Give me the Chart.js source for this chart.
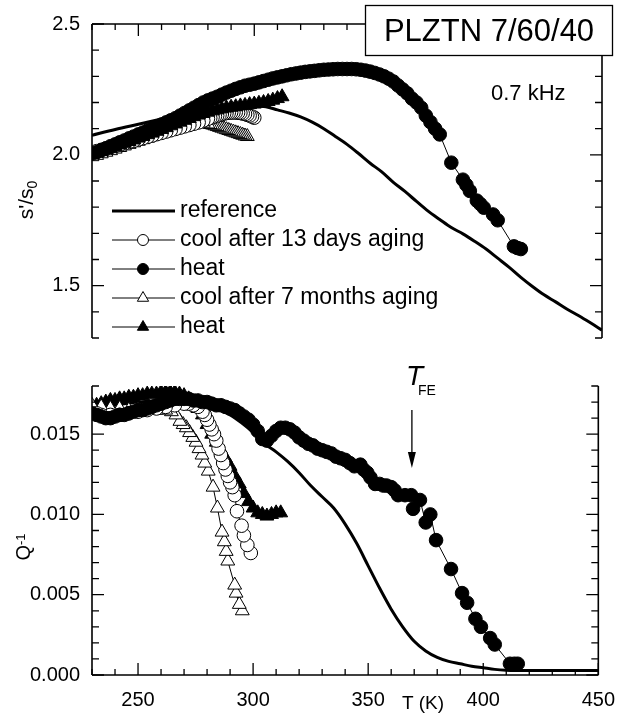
<!DOCTYPE html>
<html>
<head>
<meta charset="utf-8">
<script src="https://cdn.jsdelivr.net/npm/chart.js@4"></script>
<style>
  body { margin: 0; background: #fff; }
  #wrap { position: relative; width: 628px; height: 723px; }
  canvas { position: absolute; left: 0; }
  #topChart { top: 0; }
  #bottomChart { top: 362px; }
</style>
</head>
<body>
<div id="wrap">
  <canvas id="topChart" width="628" height="362"></canvas>
  <canvas id="bottomChart" width="628" height="361"></canvas>
</div>
<script>
// Axis ranges and tick labels
const xMin = 230, xMax = 450;
const xTicks = [250, 300, 350, 400, 450];
const sTicks = [1.5, 2.0, 2.5];
const qTicks = [0, 0.005, 0.010, 0.015];
const legendLabels = ['reference', 'cool after 13 days aging', 'heat', 'cool after 7 months aging', 'heat'];

// ---- upper panel: s'/s0 ----
const tRefS = [230, 240, 250, 260, 270, 280, 290, 300, 305, 310, 315, 320, 325, 330, 335, 340, 345, 350, 355, 360,
  365, 370, 375, 380, 385, 390, 395, 400, 405, 410, 415, 420, 425, 430, 435, 440, 445, 450];
const sRef = [2.075, 2.097, 2.117, 2.137, 2.158, 2.175, 2.186, 2.188, 2.184, 2.172, 2.160, 2.145, 2.125, 2.100, 2.070, 2.040, 2.005, 1.968, 1.935, 1.895,
  1.860, 1.822, 1.785, 1.753, 1.722, 1.698, 1.670, 1.640, 1.605, 1.570, 1.532, 1.497, 1.465, 1.438, 1.410, 1.385, 1.358, 1.330];

const tHeat13S = [230, 232, 234, 236, 238, 240, 242, 244, 246, 248, 250, 252, 254, 256, 258, 260, 262, 264, 266, 268,
  270, 272, 274, 276, 278, 280, 282, 284, 286, 288, 290, 292, 294, 296, 298, 300, 302, 304, 306, 308,
  310, 312, 314, 316, 318, 320, 322, 324, 326, 328, 330, 332, 334, 336, 338, 340, 342, 344, 346, 348,
  350, 352, 354, 356, 358, 360, 362, 364, 366, 368, 370, 372, 374, 376, 378, 380,
  385, 390, 391.5, 393, 396, 397.5, 399, 403, 405, 412, 413.5, 415];
const sHeat13 = [2.005, 2.010, 2.018, 2.025, 2.033, 2.040, 2.048, 2.055, 2.063, 2.070, 2.078, 2.085, 2.093, 2.100, 2.108, 2.116, 2.124, 2.132, 2.140, 2.150,
  2.160, 2.170, 2.180, 2.190, 2.200, 2.208, 2.215, 2.222, 2.230, 2.238, 2.245, 2.252, 2.258, 2.264, 2.268, 2.272, 2.277, 2.282, 2.287, 2.292,
  2.296, 2.300, 2.304, 2.308, 2.311, 2.314, 2.317, 2.319, 2.321, 2.323, 2.325, 2.326, 2.327, 2.328, 2.328, 2.328, 2.328, 2.327, 2.325, 2.322,
  2.318, 2.313, 2.307, 2.300, 2.291, 2.280, 2.265, 2.250, 2.235, 2.215, 2.200, 2.180, 2.150, 2.125, 2.100, 2.078,
  1.970, 1.905, 1.885, 1.862, 1.825, 1.812, 1.798, 1.772, 1.750, 1.650, 1.644, 1.640];

const tCool13S = [300, 299, 298, 297, 296, 295, 294, 293, 292, 291, 290, 289, 288, 287, 286, 285, 284, 283, 282, 281, 280,
  278, 276, 274, 272, 270, 268, 266, 264, 262, 260, 258, 256, 254, 252, 250, 248, 246, 244, 242, 240, 238, 236, 234, 232];
const sCool13 = [2.142, 2.146, 2.150, 2.153, 2.156, 2.158, 2.160, 2.161, 2.162, 2.162, 2.162, 2.161, 2.160, 2.158, 2.156, 2.153, 2.150, 2.147, 2.144, 2.141, 2.138,
  2.131, 2.124, 2.119, 2.114, 2.109, 2.104, 2.099, 2.094, 2.089, 2.084, 2.079, 2.074, 2.069, 2.064, 2.059, 2.054, 2.049, 2.044, 2.039, 2.034, 2.029, 2.024, 2.019, 2.014];

const tCool7S = [297, 296, 295, 294, 293, 292, 291, 290, 289, 288, 287, 286, 285, 284, 283, 282, 281, 280,
  278, 276, 274, 272, 270, 268, 266, 264, 262, 260, 258, 256, 254, 252, 250, 248, 246, 244, 242, 240, 238, 236, 234, 232, 230];
const sCool7 = [2.070, 2.072, 2.075, 2.078, 2.081, 2.084, 2.087, 2.090, 2.093, 2.096, 2.099, 2.102, 2.105, 2.108, 2.111, 2.114, 2.116, 2.118,
  2.121, 2.122, 2.120, 2.116, 2.111, 2.106, 2.100, 2.094, 2.088, 2.082, 2.076, 2.070, 2.064, 2.058, 2.052, 2.046, 2.040, 2.034, 2.028, 2.022, 2.016, 2.010, 2.004, 1.998, 1.993];

const tHeat7S = [230, 232, 234, 236, 238, 240, 242, 244, 246, 248, 250, 252, 254, 256, 258, 260, 262, 264, 266, 268, 270,
  272, 274, 276, 278, 280, 282, 284, 286, 288, 290, 292, 294, 296, 298, 300, 302, 304, 306, 308, 310, 312];
const sHeat7 = [2.000, 2.006, 2.012, 2.018, 2.025, 2.031, 2.038, 2.044, 2.051, 2.057, 2.064, 2.070, 2.077, 2.083, 2.090, 2.097, 2.104, 2.111, 2.118, 2.125, 2.132,
  2.139, 2.146, 2.152, 2.158, 2.163, 2.168, 2.172, 2.176, 2.179, 2.182, 2.184, 2.187, 2.189, 2.192, 2.194, 2.197, 2.200, 2.204, 2.209, 2.215, 2.222];

// ---- lower panel: Q^-1 ----
const tRefQ = [230, 240, 250, 260, 270, 280, 290, 295, 300, 305, 310, 315, 320, 325, 330, 335, 340, 345, 350, 355,
  360, 365, 370, 375, 380, 385, 390, 395, 400, 405, 410, 420, 430, 440, 450];
const qRef = [0.0166, 0.0168, 0.0170, 0.0171, 0.0171, 0.0168, 0.0162, 0.0157, 0.0151, 0.0144, 0.0139, 0.0133, 0.0126, 0.0118, 0.0111, 0.0104, 0.0094, 0.0082, 0.0068, 0.0054,
  0.0041, 0.0030, 0.0021, 0.0015, 0.0011, 0.00085, 0.0007, 0.00055, 0.00045, 0.00035, 0.0003, 0.00028, 0.00028, 0.00028, 0.00028];

const tHeat13Q = [230, 232, 234, 236, 238, 240, 242, 244, 246, 248, 250, 252, 254, 256, 258, 260, 262, 264, 266, 268,
  270, 272, 274, 276, 278, 280, 282, 284, 286, 288, 290, 292, 294, 296, 298, 300, 302, 304, 306, 308,
  310, 312, 314, 316, 318, 320, 322, 324, 326, 328, 330, 332, 334, 336, 338, 340, 342, 344,
  346.6, 348, 349.6, 351, 353, 355, 356.6, 358, 360, 361.5, 363, 366, 368.7, 369.5, 372.5, 375, 377, 379.5,
  386, 390.8, 393, 396.6, 399, 403, 405, 411.6, 413.5, 415];
const qHeat13 = [0.0163, 0.0162, 0.0161, 0.0160, 0.0160, 0.0161, 0.0162, 0.0162, 0.0163, 0.0164, 0.0165, 0.0165, 0.0166, 0.0167, 0.0168, 0.0169, 0.0170, 0.0171, 0.0172, 0.0172,
  0.0172, 0.0172, 0.0171, 0.0171, 0.0170, 0.0170, 0.0169, 0.0168, 0.0168, 0.0167, 0.0166, 0.0165, 0.0163, 0.0161, 0.0159, 0.0156, 0.0152, 0.0147, 0.0146, 0.0149,
  0.0152, 0.0154, 0.0154, 0.0153, 0.0151, 0.0148, 0.0146, 0.0144, 0.0143, 0.0141, 0.0140, 0.0139, 0.0138, 0.0136, 0.0135, 0.0134, 0.0132, 0.0130,
  0.0131, 0.0128, 0.0126, 0.0123, 0.0119, 0.0119, 0.0118, 0.0118, 0.0117, 0.0115, 0.0112, 0.0112, 0.0112, 0.01035, 0.0109, 0.0095, 0.0100, 0.0084,
  0.0066, 0.0051, 0.0045, 0.0035, 0.0030, 0.0023, 0.0019, 0.0007, 0.0007, 0.0007];

const tCool13Q = [299, 297.5, 296, 295, 293, 292, 291, 290, 289, 288, 287, 286, 285, 284, 283, 282, 281, 280, 279, 278,
  276, 274, 272, 270, 266, 262, 258, 254, 250, 246, 242, 238, 234, 232];
const qCool13 = [0.0076, 0.0081, 0.0087, 0.0093, 0.0102, 0.0112, 0.0117, 0.0120, 0.0124, 0.0128, 0.0132, 0.0137, 0.0141, 0.0146, 0.0150, 0.0153, 0.0156, 0.0159, 0.0162, 0.0164,
  0.0167, 0.0168, 0.0169, 0.0169, 0.0168, 0.0167, 0.0166, 0.0165, 0.0164, 0.0163, 0.0162, 0.0162, 0.0162, 0.0163];

const tCool7Q = [295.3, 294, 292.6, 292, 289, 288.3, 287.5, 286.5, 284.5, 282.6, 280.5, 279, 277.8, 276.5, 275.2, 273.8, 272.4, 271, 269.6, 268.2,
  266.5, 264.5, 262, 258, 254, 250, 246, 242, 238, 234, 230];
const qCool7 = [0.0040, 0.0044, 0.0051, 0.0056, 0.0071, 0.0077, 0.0083, 0.0089, 0.0104, 0.0117, 0.0127, 0.0132, 0.0137, 0.0141, 0.0145, 0.0148, 0.0151, 0.0154, 0.0156, 0.0158,
  0.0162, 0.0164, 0.0165, 0.0165, 0.0165, 0.0165, 0.0165, 0.0166, 0.0166, 0.0167, 0.0168];

const tHeat7Q = [230, 232, 234, 236, 238, 240, 242, 244, 246, 248, 250, 252, 254, 256, 258, 260, 262, 264, 266, 268, 270,
  272, 274, 276, 278, 280, 282, 284, 286, 288, 290, 292, 294, 296, 298, 300, 302, 304, 306, 308, 310, 312];
const qHeat7 = [0.0167, 0.0168, 0.0169, 0.0170, 0.0171, 0.0171, 0.0172, 0.0172, 0.0173, 0.0173, 0.0174, 0.0174, 0.0175, 0.0175, 0.0175, 0.0176, 0.0176, 0.0176, 0.0176, 0.0175, 0.0174,
  0.0172, 0.0170, 0.0166, 0.0162, 0.0156, 0.0150, 0.0145, 0.0140, 0.0135, 0.0130, 0.0124, 0.0119, 0.0113, 0.0108, 0.0104, 0.0101, 0.0100, 0.0099, 0.0100, 0.0101, 0.0101];

const FONT = "'Liberation Sans', Arial, Helvetica, sans-serif";

// pair x and y arrays into points
function pts(xs, ys) {
    return xs.map((x, i) => ({ x: x, y: ys[i] }));
}

function refSet(xs, ys, order) {
    return {
        data: pts(xs, ys),
        showLine: true,
        borderColor: '#000',
        borderWidth: 3,
        pointRadius: 0,
        cubicInterpolationMode: 'monotone',
        order: order
    };
}

function markerSet(xs, ys, shape, filled, order) {
    return {
        data: pts(xs, ys),
        showLine: true,
        borderColor: '#000',
        borderWidth: 1,
        pointStyle: shape,
        pointRadius: shape === 'triangle' ? 8 : 6.8,
        pointBorderWidth: 1,
        pointBorderColor: '#000',
        pointBackgroundColor: filled ? '#000' : '#fff',
        order: order
    };
}

function xScale(showLabels, height) {
    return {
        type: 'linear',
        min: xMin,
        max: xMax,
        grid: { display: false, drawTicks: false },
        border: { display: false },
        ticks: {
            display: showLabels,
            padding: 13,
            maxRotation: 0,
            autoSkip: false,
            color: '#000',
            font: { family: FONT, size: 20 },
            callback: v => String(v)
        },
        afterBuildTicks: s => { s.ticks = xTicks.map(v => ({ value: v })); },
        afterFit: s => { s.height = height; }
    };
}

function yScale(min, max, ticks, digits) {
    return {
        type: 'linear',
        min: min,
        max: max,
        grid: { display: false, drawTicks: false },
        border: { display: false },
        ticks: {
            padding: 12,
            color: '#000',
            font: { family: FONT, size: 20 },
            callback: v => Number(v).toFixed(digits)
        },
        afterBuildTicks: s => { s.ticks = ticks.map(v => ({ value: v })); },
        afterFit: s => { s.width = 92; }
    };
}

// minor / major tick positions along an axis
function markPositions(min, max, minor, major) {
    const out = [];
    const n = Math.round((max - min) / minor);
    for (let i = 0; i <= n; i++) {
        const v = min + i * minor;
        const r = v / major;
        out.push({ v: v, major: Math.abs(r - Math.round(r)) < 1e-6 });
    }
    return out;
}

// frame with inward ticks
const framePlugin = {
    id: 'frame',
    afterDatasetsDraw(chart, args, o) {
        const ctx = chart.ctx, a = chart.chartArea;
        const xs = chart.scales.x, ys = chart.scales.y;
        ctx.save();
        ctx.strokeStyle = '#000';
        ctx.lineWidth = 1.6;
        ctx.beginPath();
        ctx.moveTo(a.left, a.top); ctx.lineTo(a.left, a.bottom);
        ctx.moveTo(a.right, a.top); ctx.lineTo(a.right, a.bottom);
        if (o.top) { ctx.moveTo(a.left, a.top); ctx.lineTo(a.right, a.top); }
        if (o.bottom) { ctx.moveTo(a.left, a.bottom); ctx.lineTo(a.right, a.bottom); }
        ctx.stroke();

        ctx.lineWidth = 1.3;
        ctx.beginPath();
        markPositions(xs.min, xs.max, o.xMinor, o.xMajor).forEach(m => {
            const p = xs.getPixelForValue(m.v);
            const len = m.major ? 12 : 6;
            if (o.top) { ctx.moveTo(p, a.top); ctx.lineTo(p, a.top + len); }
            if (o.bottom) { ctx.moveTo(p, a.bottom); ctx.lineTo(p, a.bottom - len); }
        });
        markPositions(ys.min, ys.max, o.yMinor, o.yMajor).forEach(m => {
            const p = ys.getPixelForValue(m.v);
            const len = m.major ? 12 : 7;
            ctx.moveTo(a.left, p); ctx.lineTo(a.left + len, p);
            ctx.moveTo(a.right, p); ctx.lineTo(a.right - len, p);
        });
        ctx.stroke();
        ctx.restore();
    }
};

function drawMarker(ctx, shape, filled, x, y, r) {
    ctx.beginPath();
    if (shape === 'circle') {
        ctx.arc(x, y, r, 0, Math.PI * 2);
    } else {
        ctx.moveTo(x, y - r);
        ctx.lineTo(x + r * 0.866, y + r * 0.5);
        ctx.lineTo(x - r * 0.866, y + r * 0.5);
        ctx.closePath();
    }
    ctx.fillStyle = filled ? '#000' : '#fff';
    ctx.fill();
    ctx.lineWidth = 1;
    ctx.strokeStyle = '#000';
    ctx.stroke();
}

// rotated axis title made of parts (sub/superscripts shift along dy)
function drawRotated(ctx, cx, cy, parts) {
    ctx.save();
    ctx.translate(cx, cy);
    ctx.rotate(-Math.PI / 2);
    ctx.fillStyle = '#000';
    ctx.textBaseline = 'alphabetic';
    ctx.textAlign = 'left';
    let total = 0;
    parts.forEach(p => {
        ctx.font = p.size + 'px ' + FONT;
        p.w = ctx.measureText(p.text).width;
        total += p.w;
    });
    let x = -total / 2;
    parts.forEach(p => {
        ctx.font = p.size + 'px ' + FONT;
        ctx.fillText(p.text, x, p.dy);
        x += p.w;
    });
    ctx.restore();
}

const legendMarks = [null, ['circle', false], ['circle', true], ['triangle', false], ['triangle', true]];

const topNotes = {
    id: 'topNotes',
    afterDraw(chart) {
        const ctx = chart.ctx;
        ctx.save();
        // legend
        legendLabels.forEach((label, i) => {
            const y = 211 + i * 29;
            ctx.strokeStyle = '#000';
            ctx.beginPath();
            ctx.moveTo(112, y);
            ctx.lineTo(175, y);
            ctx.lineWidth = i === 0 ? 3 : 1;
            ctx.stroke();
            if (legendMarks[i]) {
                drawMarker(ctx, legendMarks[i][0], legendMarks[i][1], 143, y, legendMarks[i][0] === 'triangle' ? 6.5 : 5.5);
            }
            ctx.fillStyle = '#000';
            ctx.font = '23px ' + FONT;
            ctx.textBaseline = 'middle';
            ctx.textAlign = 'left';
            ctx.fillText(label, 180, y);
        });

        // sample label box
        ctx.fillStyle = '#fff';
        ctx.fillRect(365, 5, 248, 51);
        ctx.lineWidth = 1.3;
        ctx.strokeStyle = '#000';
        ctx.strokeRect(365.5, 5.5, 247, 50);
        ctx.fillStyle = '#000';
        ctx.font = '31px ' + FONT;
        ctx.textAlign = 'center';
        ctx.textBaseline = 'middle';
        ctx.fillText('PLZTN 7/60/40', 489, 32);

        ctx.font = '22px ' + FONT;
        ctx.textAlign = 'left';
        ctx.fillText('0.7 kHz', 491, 94);
        ctx.restore();

        drawRotated(ctx, 28, 200, [
            { text: "s'/s", size: 21, dy: 5 },
            { text: '0', size: 14, dy: 9 }
        ]);
    }
};

const bottomNotes = {
    id: 'bottomNotes',
    afterDraw(chart) {
        const ctx = chart.ctx;
        const xp = chart.scales.x.getPixelForValue(369);
        ctx.save();
        ctx.fillStyle = '#000';
        ctx.textAlign = 'left';
        ctx.textBaseline = 'alphabetic';
        ctx.font = 'italic 28px ' + FONT;
        ctx.fillText('T', xp - 6, 23);
        ctx.font = '14px ' + FONT;
        ctx.fillText('FE', xp + 6, 33);

        // arrow
        ctx.strokeStyle = '#000';
        ctx.lineWidth = 1.3;
        ctx.beginPath();
        ctx.moveTo(xp, 48);
        ctx.lineTo(xp, 95);
        ctx.stroke();
        ctx.beginPath();
        ctx.moveTo(xp, 106);
        ctx.lineTo(xp - 4, 90);
        ctx.lineTo(xp + 4, 90);
        ctx.closePath();
        ctx.fill();

        ctx.font = '19px ' + FONT;
        ctx.textAlign = 'center';
        ctx.textBaseline = 'middle';
        ctx.fillText('T (K)', 423, 342);
        ctx.restore();

        drawRotated(ctx, 28, 185, [
            { text: 'Q', size: 20, dy: 2 },
            { text: '-1', size: 13, dy: -3 }
        ]);
    }
};

function initCharts() {
    // upper panel
    new Chart(document.getElementById('topChart'), {
        type: 'scatter',
        data: {
            datasets: [
                markerSet(tHeat13S, sHeat13, 'circle', true, 1),
                markerSet(tHeat7S, sHeat7, 'triangle', true, 2),
                markerSet(tCool13S, sCool13, 'circle', false, 3),
                markerSet(tCool7S, sCool7, 'triangle', false, 4),
                refSet(tRefS, sRef, 5)
            ]
        },
        options: {
            responsive: false,
            animation: false,
            events: [],
            layout: { padding: { left: 0, right: 26, top: 20, bottom: 0 } },
            scales: {
                x: xScale(false, 7),
                y: yScale(1.3, 2.5, sTicks, 1)
            },
            plugins: {
                legend: { display: false },
                tooltip: { enabled: false },
                frame: { top: true, bottom: false, xMinor: 10, xMajor: 50, yMinor: 0.1, yMajor: 0.5 }
            }
        },
        plugins: [framePlugin, topNotes]
    });

    // lower panel
    new Chart(document.getElementById('bottomChart'), {
        type: 'scatter',
        data: {
            datasets: [
                markerSet(tHeat13Q, qHeat13, 'circle', true, 1),
                markerSet(tCool13Q, qCool13, 'circle', false, 2),
                markerSet(tCool7Q, qCool7, 'triangle', false, 3),
                markerSet(tHeat7Q, qHeat7, 'triangle', true, 4),
                refSet(tRefQ, qRef, 5)
            ]
        },
        options: {
            responsive: false,
            animation: false,
            events: [],
            layout: { padding: { left: 0, right: 26, top: 4, bottom: 0 } },
            scales: {
                x: xScale(true, 48),
                y: yScale(0, 0.018, qTicks, 3)
            },
            plugins: {
                legend: { display: false },
                tooltip: { enabled: false },
                frame: { top: false, bottom: true, xMinor: 10, xMajor: 50, yMinor: 0.001, yMajor: 0.005 }
            }
        },
        plugins: [framePlugin, bottomNotes]
    });
}

document.addEventListener('DOMContentLoaded', initCharts);
</script>
</body>
</html>
